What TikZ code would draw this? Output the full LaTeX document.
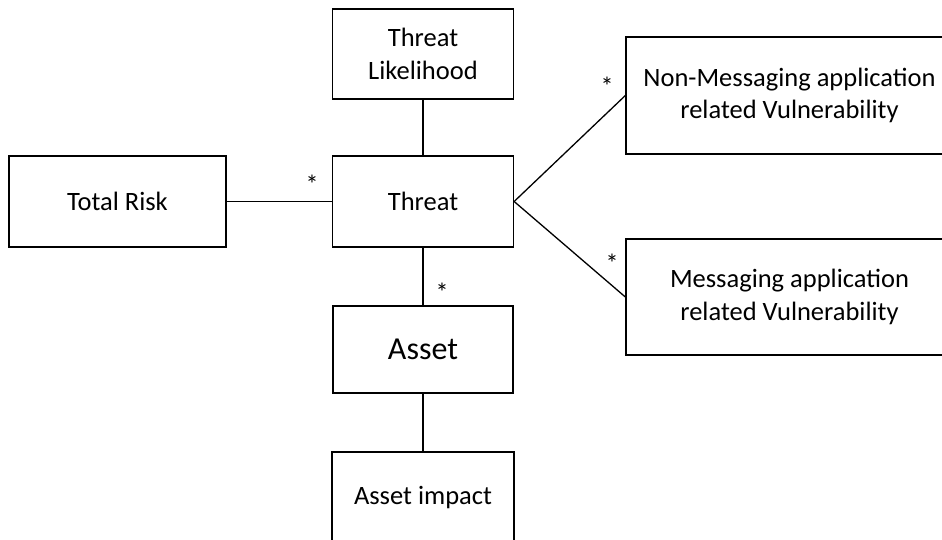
\documentclass[tikz,border=0pt]{standalone}
\usepackage{fontspec}
\setmainfont{Carlito}
\begin{document}
\begin{tikzpicture}[x=1pt,y=-1pt,
  box/.style={draw, line width=1.3pt, inner sep=0pt, align=center,
    font=\fontsize{26.5}{32.5}\selectfont},
  mainbox/.style={box, line width=2.2pt, font=\fontsize{32}{38}\selectfont},
  link/.style={line width=1.3pt},
  mult/.style={inner sep=0pt, anchor=base, font=\fontsize{26}{30}\selectfont}]
\useasboundingbox (0,0) rectangle (942,540);
\clip (0,0) rectangle (942,540);

% entity boxes
\node[box, minimum width=181pt, minimum height=90pt] (lik) at (423,54) {Threat\\Likelihood};
\node[box, minimum width=217pt, minimum height=91pt] (risk) at (117.5,201.5) {Total Risk};
\node[box, minimum width=181pt, minimum height=91pt] (threat) at (423,201.5) {Threat};
\node[box, minimum width=327pt, minimum height=117pt] (nonmsg) at (789.5,95.5) {Non-Messaging application\\related Vulnerability};
\node[box, minimum width=327pt, minimum height=116pt] (msg) at (789.5,297) {Messaging application\\related Vulnerability};
\node[mainbox, minimum width=180pt, minimum height=87pt] (asset) at (423,349.5) {Asset};
\node[box, minimum width=182pt, minimum height=92pt] (impact) at (423,498) {Asset impact};

% associations
\draw[link] (lik.south) -- (threat.north);
\draw[link] (risk.east) -- (threat.west);
\draw[link] (threat.east) -- (nonmsg.west);
\draw[link] (threat.east) -- (msg.west);
\draw[link] (threat.south) -- (asset.north);
\draw[link] (asset.south) -- (impact.north);

% multiplicities
\node[mult] (m1) at (312,194) {*};
\node[mult] (m2) at (607,96) {*};
\node[mult] (m3) at (612,272) {*};
\node[mult] (m4) at (442,301) {*};
\end{tikzpicture}
\end{document}
